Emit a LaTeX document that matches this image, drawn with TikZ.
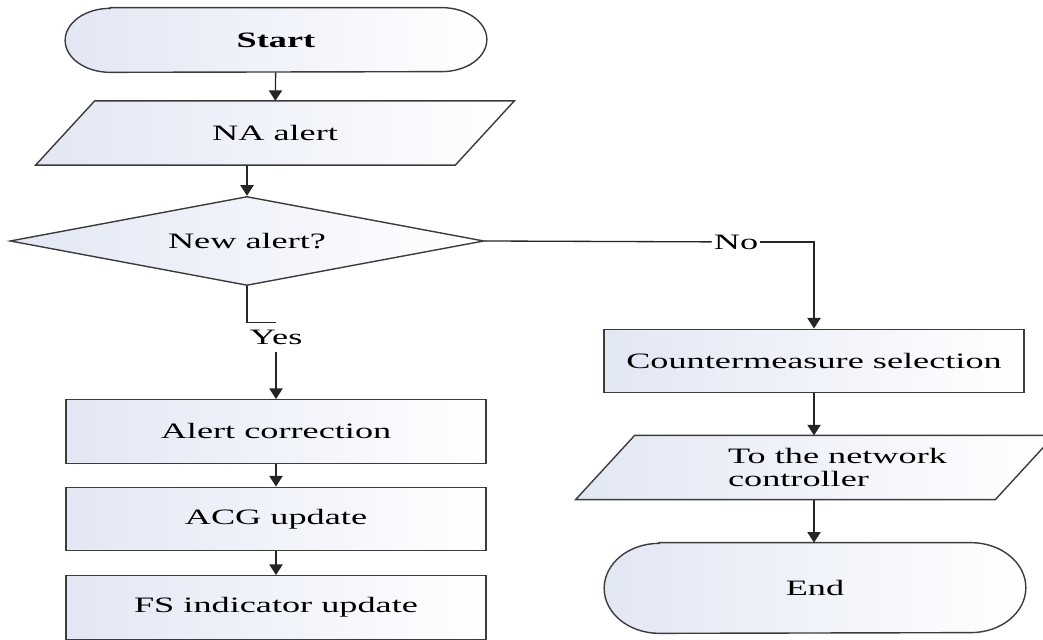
\documentclass[tikz,border=0pt]{standalone}
\usepackage{fontspec}
\setmainfont{Liberation Serif}[FakeStretch=1.65]
\usepackage{tikz}
\usetikzlibrary{arrows.meta,positioning,shapes.geometric,backgrounds}

\definecolor{edgegray}{RGB}{60,60,60}
\definecolor{paleblue}{RGB}{226,231,244}

\tikzset{
  shape border/.style={draw=edgegray, line width=0.8pt, left color=paleblue, right color=white},
  process/.style={shape border, rectangle, minimum width=8.4cm, minimum height=1.27cm},
  io/.style={rectangle, minimum width=8.38cm, minimum height=1.27cm},
  decision/.style={shape border, diamond, aspect=5.3, minimum width=9.48cm,
    minimum height=1.78cm, inner sep=1pt},
  terminal/.style={rectangle, minimum width=8.42cm, minimum height=#1},
  flow/.style={draw=black!85, line width=0.75pt},
  arr/.style={flow, -{Triangle[width=7.5pt,length=6pt]}},
  lbl/.style={inner sep=1pt}
}

\begin{document}
\begin{tikzpicture}[font=\fontsize{12.5}{13}\selectfont]
    \useasboundingbox (0,0) rectangle (20.86,12.8);

    % Left column
    \node[terminal=1.28cm] (start) at (5.52,12.0) {\textbf{Start}};
    \node[io] (na) at (5.50,10.14) {NA alert};
    \node[decision] (dec) at (4.94,7.98) {New alert?};
    \node[lbl, inner sep=4pt] (yes) at (5.52,6.06) {Yes};
    \node[process] (alc) at (5.52,4.17) {Alert correction};
    \node[process] (acg) at (5.52,2.42) {ACG update};
    \node[process] (fs) at (5.52,0.65) {FS indicator update};

    % Right column
    \node[lbl] (no) at (14.72,7.96) {No};
    \node[process] (cms) at (16.28,5.58) {Countermeasure selection};
    \node[io, align=left] (net) at (16.30,3.45) {\hspace*{0.9cm}To the network\\\hspace*{0.9cm}controller};
    \node[terminal=1.8cm] (finish) at (16.30,1.04) {End};

    \begin{scope}[on background layer]
        % Terminal outlines: name / x radius / y radius
        \foreach \nd/\rx/\ry in {start/0.9/0.64, finish/1.1/0.9} {
            \draw[shape border] ([xshift=\rx cm]\nd.north west) -- ([xshift=-\rx cm]\nd.north east)
                arc[start angle=90, end angle=-90, x radius=\rx cm, y radius=\ry cm]
                -- ([xshift=\rx cm]\nd.south west)
                arc[start angle=270, end angle=90, x radius=\rx cm, y radius=\ry cm] -- cycle;
        }
        % Input/output outlines, slanted
        \foreach \nd in {na, net} {
            \draw[shape border] ([xshift=0.59cm]\nd.north west) -- ([xshift=0.59cm]\nd.north east)
                -- ([xshift=-0.59cm]\nd.south east) -- ([xshift=-0.59cm]\nd.south west) -- cycle;
        }
    \end{scope}

    % Connectors
    \draw[arr] (start) -- (na);
    \draw[arr] (dec.north |- na.south) -- (dec.north);
    \draw[flow] (dec.south) |- (yes.north);
    \draw[arr] (yes) -- (alc);
    \draw[arr] (alc) -- (acg);
    \draw[arr] (acg) -- (fs);
    \draw[flow] (dec.east) -- (no);
    \draw[arr] (no) -| (cms);
    \draw[arr] (cms.south) -- (cms.south |- net.north);
    \draw[arr] (cms.south |- net.south) -- (cms.south |- finish.north);
\end{tikzpicture}
\end{document}
